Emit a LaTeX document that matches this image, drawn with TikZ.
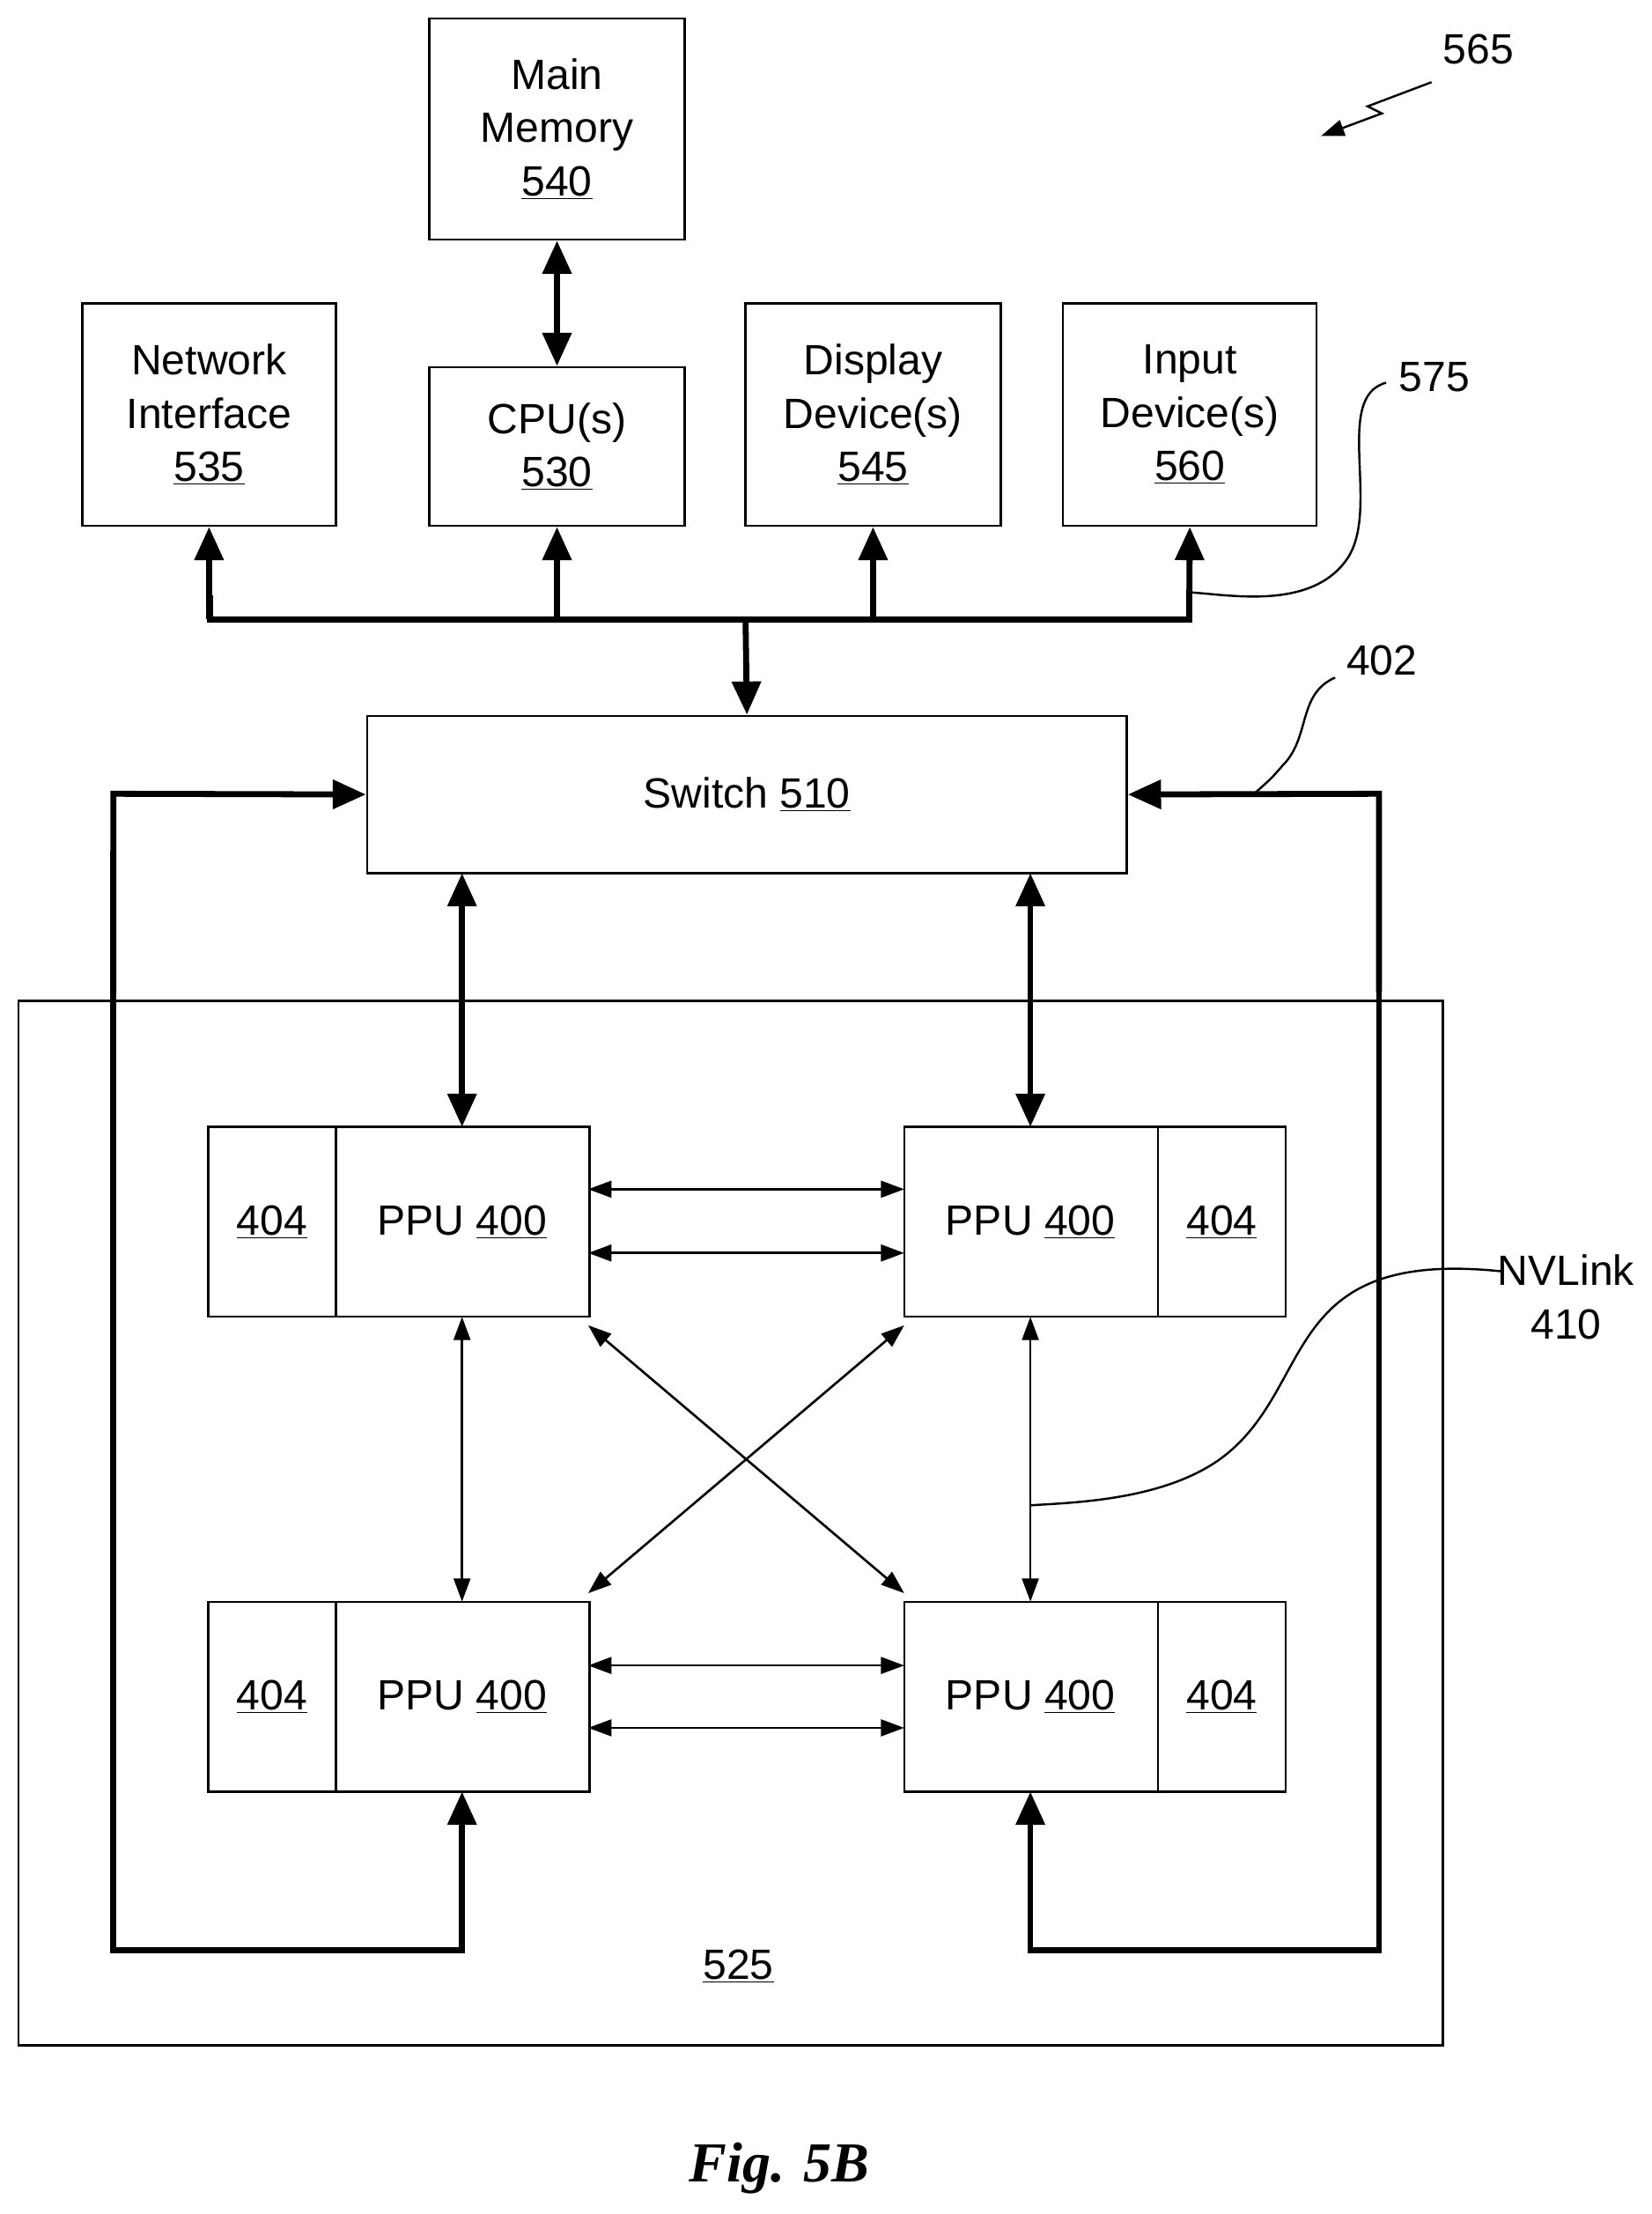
\documentclass[tikz,border=0pt]{standalone}
\usepackage{fontspec}
\setmainfont{Liberation Sans}
\newfontfamily\figfont{Liberation Serif}
\usetikzlibrary{arrows.meta}
\begin{document}
\begin{tikzpicture}[x=0.03cm,y=-0.03cm,
  box/.style={draw,line width=1.3pt},
  txt/.style={font=\fontsize{25.5}{32}\selectfont,align=center},
  thick arr/.style={line width=3.6pt,-{Triangle[length=20pt,width=17pt]}},
  thick dbl/.style={line width=3.6pt,{Triangle[length=20pt,width=17pt]}-{Triangle[length=20pt,width=17pt]}},
  thin dbl/.style={line width=1.4pt,{Triangle[length=14pt,width=10pt]}-{Triangle[length=14pt,width=10pt]}},
  lead/.style={line width=1.3pt}]
\useasboundingbox (0,0) rectangle (1165,1562);
% top boxes
\node[box,minimum width=180*0.03cm,minimum height=156*0.03cm,txt] (mm) at (393,91) {Main\\Memory\\\underline{540}};
\node[box,minimum width=179*0.03cm,minimum height=157*0.03cm,txt] (ni) at (147.5,292.5) {Network\\Interface\\\underline{535}};
\node[box,minimum width=180*0.03cm,minimum height=112*0.03cm,txt] (cpu) at (393,315) {CPU(s)\\\underline{530}};
\node[box,minimum width=180*0.03cm,minimum height=157*0.03cm,txt] (dd) at (616,292.5) {Display\\Device(s)\\\underline{545}};
\node[box,minimum width=179*0.03cm,minimum height=157*0.03cm,txt] (id) at (839.5,292.5) {Input\\Device(s)\\\underline{560}};
\node[box,minimum width=536*0.03cm,minimum height=111*0.03cm,txt] (sw) at (527,560.5) {Switch \underline{510}};
\draw[thick dbl] (mm.south) -- (cpu.north);
% bus
\coordinate (b1) at (148,437); \coordinate (b4) at (839,437);
\draw[thick arr,line join=miter] (ni.south |- b1) ++(0,0) -- (ni.south);
\draw[line width=3.6pt,line join=miter] (148,420) -- (b1) -- (b4) -- (839,420);
\draw[thick arr] (393,439) -- (cpu.south);
\draw[thick arr] (616,439) -- (dd.south);
\draw[thick arr] (839,439) -- (id.south);
\draw[thick arr] (526,435) -- (sw.north);
% 525
\node[box,minimum width=1005*0.03cm,minimum height=737*0.03cm] (sys) at (515.5,1074.5) {};
\node[txt] (l525) at (521,1387) {\underline{525}};
% PPUs
\foreach \x/\y in {147/795,147/1130,638/795,638/1130}{
  \draw[box] (\x,\y) rectangle ++(269,134);
}
\draw[box] (237,795) -- (237,929); \draw[box] (237,1130) -- (237,1264);
\draw[box] (817,795) -- (817,929); \draw[box] (817,1130) -- (817,1264);
\node[txt] (tl4) at (192,862) {\underline{404}};
\node[txt] (tl) at (326,862) {PPU \underline{400}};
\node[txt] (bl4) at (192,1197) {\underline{404}};
\node[txt] (bl) at (326,1197) {PPU \underline{400}};
\node[txt] (tr) at (727,862) {PPU \underline{400}};
\node[txt] (tr4) at (862,862) {\underline{404}};
\node[txt] (br) at (727,1197) {PPU \underline{400}};
\node[txt] (br4) at (862,1197) {\underline{404}};
% switch to PPU
\draw[thick dbl] (326,616) -- (326,795);
\draw[thick dbl] (727,616) -- (727,795);
% NVLinks
\draw[thin dbl] (415,839) -- (638,839);
\draw[thin dbl] (415,884) -- (638,884);
\draw[thin dbl] (415,1175) -- (638,1175);
\draw[thin dbl] (415,1219) -- (638,1219);
\draw[thin dbl] (326,929) -- (326,1130);
\draw[thin dbl] (727,929) -- (727,1130);
\draw[thin dbl] (415,935) -- (638,1124);
\draw[thin dbl] (638,935) -- (415,1124);
% loops
\draw[thick arr,line join=miter] (80,600) -- (80,1376) -- (326,1376) -- (326,1264);
\draw[thick arr,line join=miter] (80,700) -- (80,560) -- (sw.west);
\draw[thick arr,line join=miter] (973,600) -- (973,1376) -- (727,1376) -- (727,1264);
\draw[thick arr,line join=miter] (973,700) -- (973,560) -- (sw.east);
% labels
\node[txt] (n565) at (1043,35) {565};
\draw[lead,-{Triangle[length=14pt,width=10pt]}] (1010,58) -- (965,75) -- (975,80) -- (932,96);
\node[txt] (n575) at (1012,266) {575};
\draw[lead] (978,270) .. controls (940,280) and (975,360) .. (950,395) .. controls (925,430) and (870,420) .. (841,418);
\node[txt] (n402) at (975,466) {402};
\draw[lead] (942,478) .. controls (915,490) and (925,520) .. (905,540) .. controls (895,552) and (890,555) .. (885,560);
\node[txt] (nv) at (1105,915) {NVLink\\410};
\draw[lead] (1060,897) .. controls (900,880) and (930,980) .. (860,1030) .. controls (820,1058) and (760,1060) .. (727,1062);
\node[font=\figfont\bfseries\itshape\fontsize{34}{40}\selectfont] (fig) at (550,1530) {Fig. 5B};
\end{tikzpicture}
\end{document}
